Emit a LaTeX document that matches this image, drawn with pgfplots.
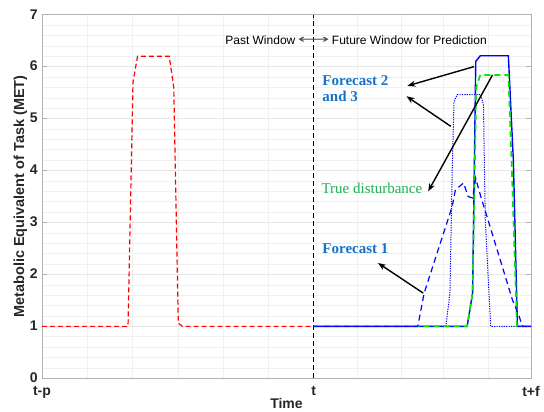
\documentclass[border=0pt]{standalone}
\usepackage{graphicx}
\usepackage{pgfplots}
\pgfplotsset{compat=1.18}
\usepackage{fontspec}
\setmainfont{Liberation Sans}
\newfontfamily\serifann{Liberation Serif}
\newfontfamily\dejavu{DejaVu Sans}
\usetikzlibrary{arrows.meta}
\definecolor{fcblue}{RGB}{20,115,200}
\definecolor{tdgreen}{RGB}{30,175,85}
\definecolor{lgreen}{RGB}{0,235,0}
\begin{document}
\begin{tikzpicture}
\path[use as bounding box] (-42pt,-33.7pt) rectangle (502pt,378.3pt);
\begin{axis}[
  at={(0,0)}, anchor=south west,
  scale only axis, width=489pt, height=363.6pt,
  xmin=0, xmax=108, ymin=0, ymax=7,
  xtick={0,60,108}, xticklabels={t-p,t,t+f},
  ytick={0,1,2,3,4,5,6,7},
  minor xtick={10,20,30,40,50,69.7,79.4,88.7,98.5},
  minor y tick num=4,
  xminorgrids, ymajorgrids, yminorgrids,
  major grid style={gray!18, line width=0.5pt},
  minor grid style={gray!12, line width=0.5pt},
  axis line style={gray!60, line width=0.8pt},
  tick style={gray!60, line width=0.6pt},
  major tick length=5pt, minor tick length=0pt,
  tick align=inside, tick pos=both,
  /pgf/number format/assume math mode=true,
  tick label style={font=\bfseries\fontsize{14}{16}\selectfont, text=black!85, inner sep=1pt},
  xticklabel style={yshift=-6.7pt},
  yticklabel style={xshift=-3.2pt, yshift=0.5pt},
  xlabel={Time}, ylabel={Metabolic Equivalent of Task (MET)},
  xlabel style={font=\bfseries\fontsize{14}{16}\selectfont, at={(axis description cs:0.5,0)}, anchor=center, yshift=-25pt, text=black!85},
  ylabel style={font=\bfseries\fontsize{14.5}{16}\selectfont, at={(axis description cs:-0.044,0.5)}, anchor=center, text=black!85},
  clip=false,
]
% past disturbance
\addplot[red, line width=1.2pt, dash pattern=on 5pt off 3pt] coordinates {
(0,1) (19,1) (20.1,5.7) (21.1,6.2) (28.1,6.2) (29.1,5.6) (30.1,1.06) (31,1) (60,1)};
% vertical separator
\addplot[black, line width=1.1pt, dash pattern=on 5pt off 3pt] coordinates {(60,0) (60,7)};
% forecast 2 (solid)
\addplot[blue, line width=1.4pt] coordinates {
(60,1) (93.9,1) (95.1,1.64) (95.8,6.1) (96.8,6.21) (103.0,6.21) (104.1,4.2) (105.0,1) (108,1)};
% forecast 3 (dotted)
\addplot[blue, line width=1pt, dash pattern=on 1.2pt off 1.2pt] coordinates {
(60,1) (89.2,1) (90.1,1.64) (90.6,4.0) (91.0,5.33) (91.7,5.46) (96.9,5.46) (97.5,5.27) (97.9,3.05) (99.1,1) (108,1)};
% true disturbance
\addplot[lgreen, line width=1.7pt, dash pattern=on 6pt off 4pt] coordinates {
(60,1) (93.9,1) (95.1,1.64) (95.9,5.6) (96.8,5.84) (103.0,5.84) (103.7,4.2) (104.9,1) (108,1)};
% forecast 1 (dashed)
\addplot[blue, line width=1.2pt, dash pattern=on 6pt off 4pt] coordinates {
(60,1) (83,1) (84.4,1.64) (90.6,3.31) (91.3,3.63) (93.1,3.76) (94.1,3.5) (95.1,3.47) (95.8,3.85) (96.9,3.5) (98.4,3.08) (103.9,1.51) (105.4,1.19) (106.1,1) (108,1)};
% annotations
\node[anchor=east, inner sep=0pt, font=\fontsize{12}{13}\selectfont] at (axis cs:56.0,6.5) {Past Window};
\node[anchor=center, inner sep=0pt, font=\dejavu\fontsize{11}{13}\selectfont, text=black!70] at (axis cs:60,6.5) {\scalebox{2.0}[1.1]{⟷}};
\node[anchor=west, inner sep=0pt, font=\fontsize{12}{13}\selectfont] at (axis cs:64.0,6.5) {Future Window for Prediction};
\node[anchor=base west, inner sep=0pt, font=\serifann\bfseries\fontsize{15}{17}\selectfont, text=fcblue] at (axis cs:61.9,5.63) {Forecast 2};
\node[anchor=base west, inner sep=0pt, font=\serifann\bfseries\fontsize{15}{17}\selectfont, text=fcblue] at (axis cs:61.9,5.32) {and 3};
\node[anchor=base west, inner sep=0pt, font=\serifann\fontsize{15}{17}\selectfont, text=tdgreen] at (axis cs:61.7,3.55) {True disturbance};
\node[anchor=base west, inner sep=0pt, font=\serifann\bfseries\fontsize{15}{17}\selectfont, text=fcblue] at (axis cs:61.9,2.395) {Forecast 1};
\draw[black, line width=1.4pt, -{Stealth[length=8pt,width=6pt]}] (axis cs:95.4,6.00) -- (axis cs:80.7,5.63);
\draw[black, line width=1.4pt, -{Stealth[length=8pt,width=6pt]}] (axis cs:90.3,4.85) -- (axis cs:80.5,5.43);
\draw[black, line width=1.4pt, -{Stealth[length=8pt,width=6pt]}] (axis cs:99.5,5.84) -- (axis cs:85.3,3.60);
\draw[black, line width=1.4pt, -{Stealth[length=8pt,width=6pt]}] (axis cs:84.2,1.64) -- (axis cs:74.2,2.22);
\end{axis}
\end{tikzpicture}
\end{document}
